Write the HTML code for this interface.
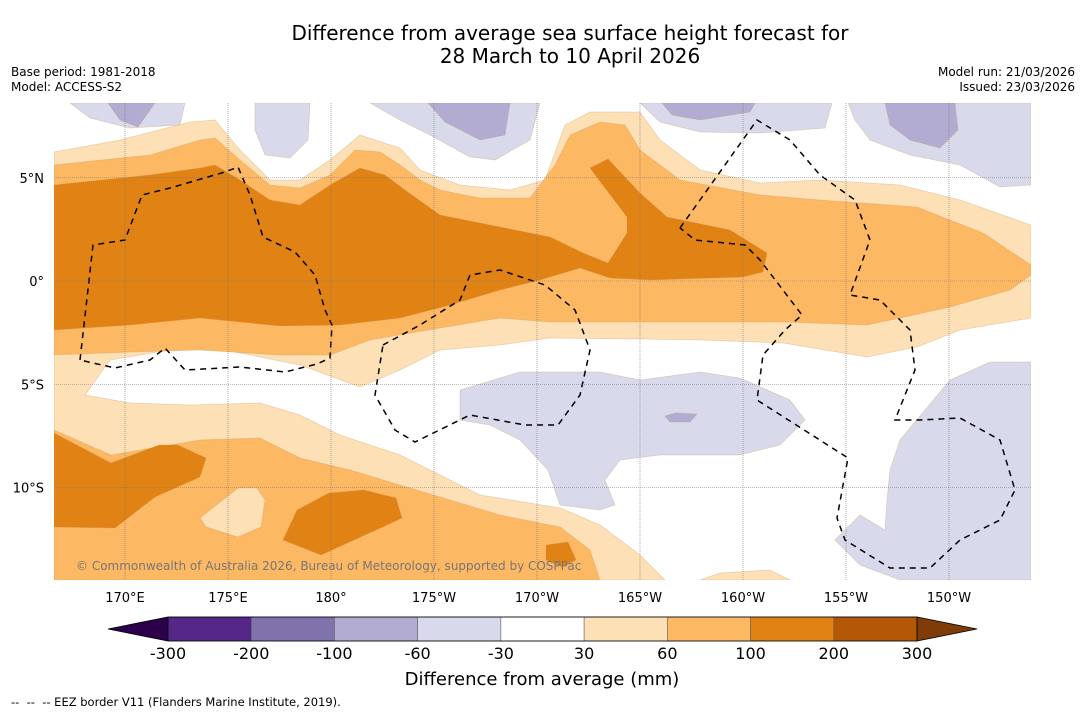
<!DOCTYPE html>
<html><head><meta charset="utf-8">
<style>
html,body{margin:0;padding:0;background:#fff;}
body{width:1085px;height:713px;position:relative;overflow:hidden;font-family:"DejaVu Sans","Liberation Sans",sans-serif;color:#000;}
.t{position:absolute;white-space:nowrap;}
</style></head>
<body>
<div class="t" style="left:0;width:1140px;text-align:center;top:22px;font-size:20px;line-height:23px;">Difference from average sea surface height forecast for<br>28 March to 10 April 2026</div>
<div class="t" style="left:11px;top:65px;font-size:12px;line-height:15px;">Base period: 1981-2018<br>Model: ACCESS-S2</div>
<div class="t" style="right:10px;top:65px;font-size:12px;line-height:15px;text-align:right;">Model run: 21/03/2026<br>Issued: 23/03/2026</div>
<svg id="map" width="1085" height="713" style="position:absolute;left:0;top:0" xmlns="http://www.w3.org/2000/svg"></svg>
<div class="t" style="left:11px;top:695px;font-size:11.5px;">-- &nbsp;-- &nbsp;-- EEZ border V11 (Flanders Marine Institute, 2019).</div>
<script>
// Colorbar data
const levels = [-300,-200,-100,-60,-30,30,60,100,200,300];
const levelColors = ['#542788','#8073ac','#b2abd2','#d8daeb','#ffffff','#fee0b6','#fdb863','#e08214','#b35806'];
const lonTicks = ['170°E','175°E','180°','175°W','170°W','165°W','160°W','155°W','150°W'];
const lonTickValues = [170,175,180,185,190,195,200,205,210];
const latTicks = ['5°N','0°','5°S','10°S'];
const latTickValues = [5,0,-5,-10];

const NS='http://www.w3.org/2000/svg';
const svg=document.getElementById('map');
const MX0=54,MX1=1031,MY0=103,MY1=580;
function xLon(l){return 125+(l-170)*20.6;}
function yLat(l){return 281-l*20.65;}
function mk(t,a,p){const e=document.createElementNS(NS,t);for(const k in a)e.setAttribute(k,a[k]);(p||svg).appendChild(e);return e;}

const clip=mk('clipPath',{id:'mc'});mk('rect',{x:MX0,y:MY0,width:MX1-MX0,height:MY1-MY0},clip);
const g=mk('g',{'clip-path':'url(#mc)'});



// contour outlines (screen-space geography)
const shapes=[
 ['#d8daeb','purple-light-nw',[[70,103],[185,103],[180,125],[130,128],[90,118]]],
 ['#b2abd2','purple-mid-nw',[[108,103],[155,103],[138,127],[120,120]]],
 ['#d8daeb','purple-light-n1',[[255,103],[310,103],[308,140],[290,158],[265,155],[255,130]]],
 ['#d8daeb','purple-light-n2',[[370,103],[540,103],[530,140],[495,160],[470,157],[430,135],[400,120]]],
 ['#b2abd2','purple-mid-n2',[[428,103],[510,103],[505,135],[480,140],[445,122]]],
 ['#d8daeb','purple-light-n3',[[640,103],[832,103],[825,128],[760,133],[700,132],[660,122]]],
 ['#b2abd2','purple-mid-n3',[[662,103],[755,103],[750,112],[700,120],[672,115]]],
 ['#d8daeb','purple-light-ne',[[848,103],[1031,103],[1031,185],[1000,187],[960,165],[910,155],[870,140],[855,120]]],
 ['#b2abd2','purple-mid-ne',[[885,103],[955,103],[958,130],[940,148],[910,140],[890,125]]],
 ['#d8daeb','purple-light-s',[[460,390],[520,372],[600,372],[640,380],[700,372],[740,378],[790,400],[805,420],[780,445],[740,455],[660,455],[620,460],[605,480],[615,505],[600,510],[560,505],[548,470],[520,440],[490,425],[460,420]]],
 ['#b2abd2','purple-mid-s',[[665,416],[675,413],[697,414],[690,422],[670,422]]],
 ['#d8daeb','purple-light-se',[[1031,362],[990,362],[950,380],[925,410],[900,440],[890,470],[887,500],[885,530],[860,515],[835,540],[860,565],[900,580],[1031,580]]],
 ['#fee0b6','orange-light',[[54,152],[120,140],[190,122],[215,120],[240,150],[270,180],[300,180],[330,160],[360,135],[400,148],[420,170],[460,185],[510,190],[545,180],[565,125],[590,112],[640,112],[660,140],[700,170],[760,183],[820,180],[900,185],[960,200],[1031,225],[1031,318],[960,330],[917,347],[867,357],[783,343],[700,340],[640,339],[550,338],[500,345],[440,350],[400,370],[360,387],[300,365],[200,345],[110,360],[85,395],[130,403],[190,405],[260,403],[300,415],[340,435],[400,455],[440,475],[480,495],[560,508],[600,525],[640,555],[665,580],[54,580]]],
 ['#fee0b6','orange-light-se',[[700,580],[720,573],[770,570],[790,580]]],
 ['#fdb863','orange-mid-n',[[54,165],[150,155],[200,140],[215,138],[240,160],[270,185],[300,188],[330,175],[355,150],[380,152],[400,165],[420,180],[440,190],[480,198],[530,198],[555,165],[570,135],[600,122],[625,125],[640,150],[680,180],[760,195],[820,200],[917,207],[983,233],[1031,265],[1031,275],[1010,290],[950,307],[900,318],[867,325],[783,322],[700,322],[550,322],[500,318],[440,328],[370,340],[330,355],[280,355],[200,350],[130,352],[54,355]]],
 ['#fdb863','orange-mid-s',[[54,430],[111,455],[200,440],[260,438],[300,458],[350,470],[400,485],[450,500],[500,515],[560,527],[590,550],[600,580],[54,580]]],
 ['#fee0b6','orange-light-blob',[[200,518],[238,488],[257,488],[265,500],[261,527],[238,537],[206,527]]],
 ['#e08214','orange-dark-n',[[54,185],[150,175],[200,168],[215,165],[240,180],[270,200],[300,205],[330,185],[360,168],[385,175],[405,190],[440,215],[490,225],[550,237],[583,253],[608,263],[627,233],[627,217],[590,168],[608,159],[640,193],[667,217],[730,230],[767,253],[763,272],[743,277],[650,280],[610,278],[580,268],[540,280],[500,290],[450,305],[400,318],[340,325],[280,326],[200,318],[130,325],[54,330]]],
 ['#e08214','orange-dark-s1',[[54,433],[111,463],[159,445],[178,445],[206,458],[200,477],[155,497],[115,528],[54,527]]],
 ['#e08214','orange-dark-s2',[[283,540],[297,510],[329,493],[364,490],[396,498],[402,518],[376,530],[321,555]]],
 ['#e08214','orange-dark-s3',[[546,545],[568,542],[576,560],[562,567],[546,560]]]
];
shapes.forEach(s=>{
 const p=mk('polygon',{points:s[2].map(q=>q.join(',')).join(' '),fill:s[0],stroke:s[0]==='#ffffff'?'none':'rgba(200,150,90,0.35)','stroke-width':0.8},g);
 
 
});

// gridlines
lonTickValues.forEach((v,i)=>{
 const x=xLon(v);
 const l=mk('line',{x1:x,x2:x,y1:MY0,y2:MY1,stroke:'#777','stroke-width':0.6,'stroke-dasharray':'1,1'});
 
 
 const t=mk('text',{x:x,y:602,'text-anchor':'middle','font-size':13});
 t.textContent=lonTicks[i];
 
 
});
latTickValues.forEach((v,i)=>{
 const y=yLat(v);
 const l=mk('line',{x1:MX0,x2:MX1,y1:y,y2:y,stroke:'#777','stroke-width':0.6,'stroke-dasharray':'1,1'});
 
 
 const t=mk('text',{x:44,y:y+5,'text-anchor':'end','font-size':13});
 t.textContent=latTicks[i];
 
 
});

// EEZ borders
const eez=[
 [[80,360],[93,245],[125,240],[142,195],[170,188],[225,172],[238,167],[250,195],[263,237],[295,252],[315,275],[325,310],[332,325],[330,358],[317,364],[285,372],[240,367],[185,370],[165,348],[150,360],[115,368],[80,360]],
 [[383,345],[420,325],[460,300],[470,275],[500,270],[545,285],[575,310],[590,350],[580,395],[558,425],[525,425],[470,415],[415,442],[395,430],[375,395],[383,345]],
 [[680,228],[700,200],[757,120],[790,140],[820,175],[855,200],[870,240],[850,295],[880,300],[910,330],[915,370],[895,420],[920,420],[960,418],[1000,440],[1015,490],[1000,520],[960,540],[930,568],[890,568],[845,540],[837,518],[848,458],[757,400],[763,355],[785,330],[802,315],[760,260],[745,245],[695,240],[680,228]]
];
eez.forEach(pl=>{
 const p=mk('polyline',{points:pl.map(q=>q.join(',')).join(' '),fill:'none',stroke:'#000','stroke-width':1.5,'stroke-dasharray':'6,5'},g);
 
 
});
const cp=mk('text',{x:76,y:570,'font-size':12,fill:'#777'});
cp.textContent='© Commonwealth of Australia 2026, Bureau of Meteorology, supported by COSPPac';



// colorbar
const CB0=168,CB1=917,CBY=617,CBH=24;
const segW=(CB1-CB0)/levelColors.length;
function cbX(i){return CB0+i*segW;}
const lt=mk('polygon',{points:`108,629 ${CB0},${CBY} ${CB0},${CBY+CBH}`,fill:'#2d004b',stroke:'#000','stroke-width':0.8});


const rt=mk('polygon',{points:`977,629 ${CB1},${CBY} ${CB1},${CBY+CBH}`,fill:'#7f3b08',stroke:'#000','stroke-width':0.8});


levelColors.forEach((c,i)=>{
 const r=mk('rect',{x:cbX(i),y:CBY,width:segW,height:CBH,fill:c,stroke:'#555','stroke-width':0.5});
 
 
});
const fr=mk('rect',{x:CB0,y:CBY,width:CB1-CB0,height:CBH,fill:'none',stroke:'#000','stroke-width':0.8});


levels.forEach((v,i)=>{
 const t=mk('text',{x:cbX(i),y:659,'text-anchor':'middle','font-size':16});
 t.textContent=v;
 
 
});
const ct=mk('text',{x:542,y:685,'text-anchor':'middle','font-size':18});
ct.textContent='Difference from average (mm)';


</script>
</body></html>
